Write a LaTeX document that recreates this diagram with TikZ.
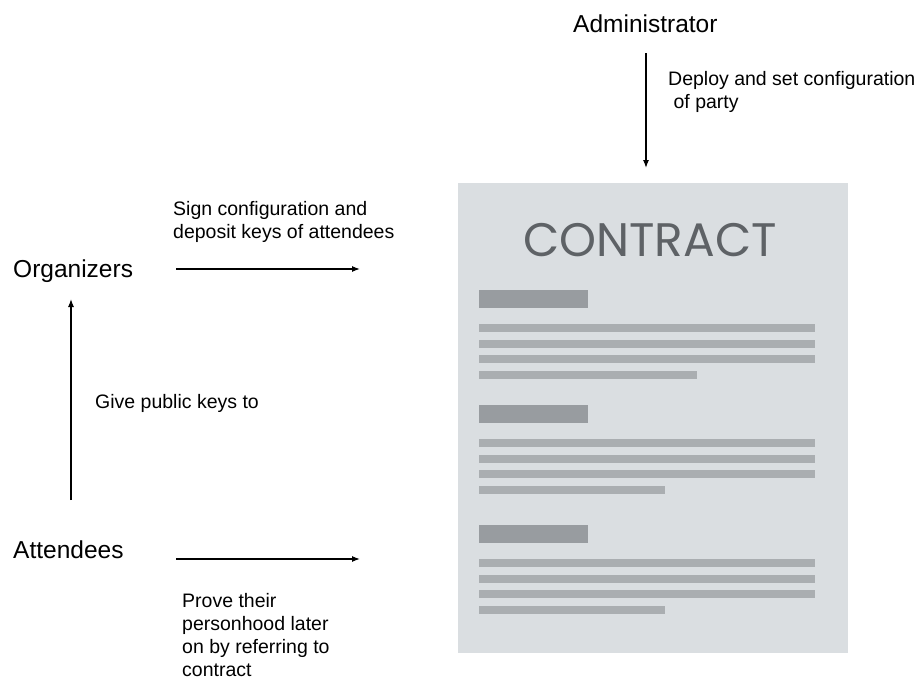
\documentclass[tikz,border=0pt]{standalone}
\usepackage{fontspec}
\setmainfont{Liberation Sans}
\newfontfamily\titlefont{Poppins}
\usepackage{xcolor}
\usetikzlibrary{arrows.meta}
\definecolor{paper}{HTML}{DADEE1}
\definecolor{ink}{HTML}{5E6266}
\definecolor{heading}{HTML}{989CA0}
\definecolor{textline}{HTML}{AAAEB1}

\begin{document}
\begin{tikzpicture}[x=1pt,y=-1pt,
    role/.style={anchor=base west,inner sep=0pt,font=\fontsize{24.5}{28}\selectfont},
    note/.style={anchor=base west,inner sep=0pt,align=left,font=\fontsize{19.5}{23}\selectfont},
    flow/.style={line width=1.2pt,-{Latex[length=8pt,width=6pt]}}]
	\useasboundingbox (0,0) rectangle (918,680);

	% contract sheet
	\fill [paper] (458,183) rectangle (848,653);
	\node [anchor=base,inner sep=0pt,text=ink,font=\titlefont\fontsize{47}{47}\selectfont] (title) at (650,256) {CONTRACT};
	\foreach \row/\short in {290/697,405/665,525/665}{%
			\fill [heading] (479,\row) rectangle (588,\row+18);
			\foreach \k in {0,1,2}
				\fill [textline] (479,\row+34+15.7*\k) rectangle (815,\row+42+15.7*\k);
			\fill [textline] (479,\row+81) rectangle (\short,\row+89);
		}

	% administrator (notes sit on the baseline of their last line)
	\node [role] (admin) at (573,32) {Administrator};
	\coordinate (admin out) at (646,53);
	\coordinate (admin in) at (646,168);
	\draw [flow] (admin out) -- (admin in);
	\node [note] (deploy) at (668,108) {Deploy and set configuration\\~of party};

	% organizers
	\node [role] (org) at (13,277) {Organizers};
	\coordinate (org out) at (176,269);
	\coordinate (org in) at (360,269);
	\draw [flow] (org out) -- (org in);
	\node [note] (sign) at (173,238) {Sign configuration and\\deposit keys of attendees};

	% attendees
	\node [role] (att) at (13,558) {Attendees};
	\coordinate (att up) at (71,500);
	\coordinate (org down) at (71,299);
	\draw [flow] (att up) -- (org down);
	\node [note] (give) at (95,408) {Give public keys to};

	\coordinate (att out) at (176,559);
	\coordinate (att in) at (360,559);
	\draw [flow] (att out) -- (att in);
	\node [note] (prove) at (182,676) {Prove their\\personhood later\\on by referring to\\contract};
\end{tikzpicture}
\end{document}
